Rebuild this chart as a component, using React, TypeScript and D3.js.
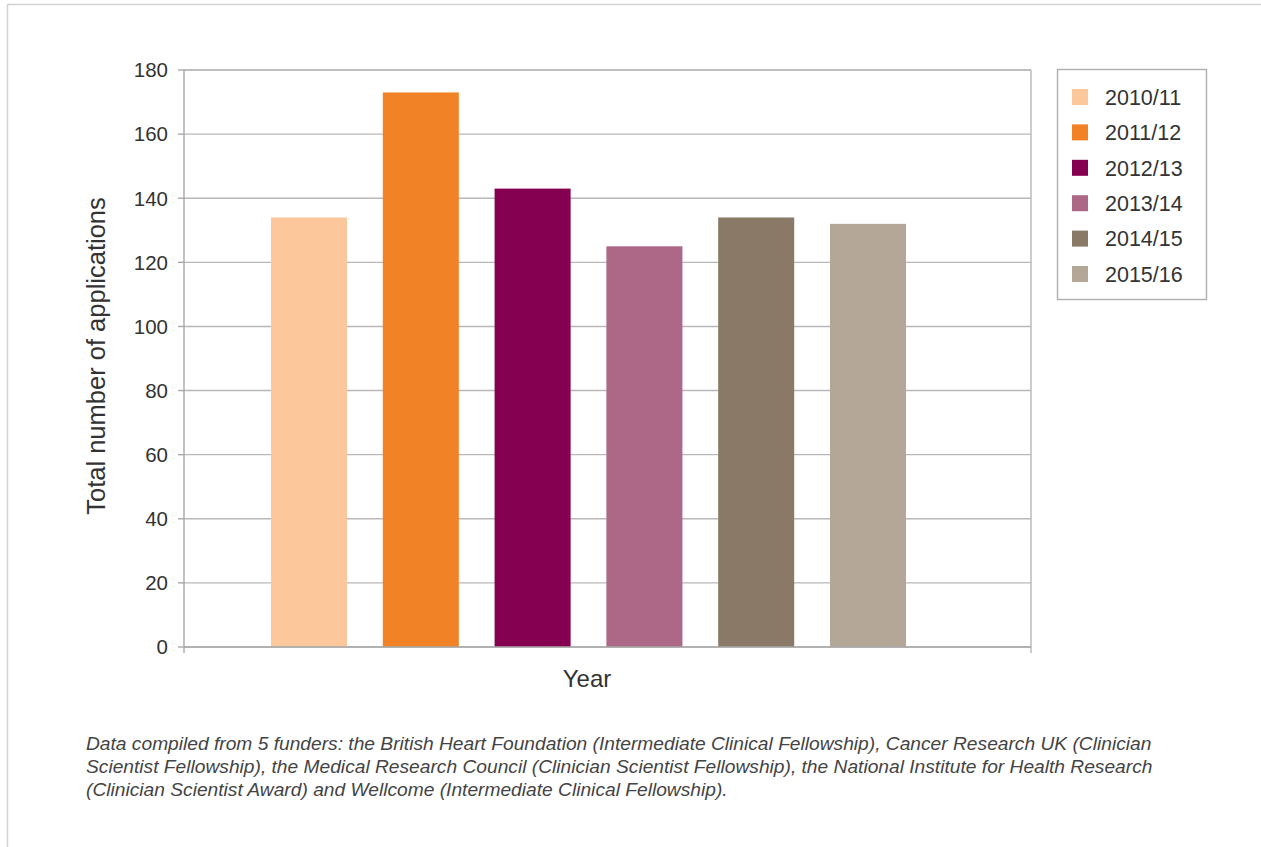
import React from "react";
import * as d3 from "d3";

const seriesNames = ["2010/11", "2011/12", "2012/13", "2013/14", "2014/15", "2015/16"];
const seriesValues = [134, 173, 143, 125, 134, 132];
const seriesColors = ["#FCC89B", "#F28226", "#850050", "#AD6787", "#8A7967", "#B5A797"];
const yTicks = [0, 20, 40, 60, 80, 100, 120, 140, 160, 180];
const yTitle = "Total number of applications";
const xTitle = "Year";
const footnoteLines = [
  "Data compiled from 5 funders: the British Heart Foundation (Intermediate Clinical Fellowship), Cancer Research UK (Clinician",
  "Scientist Fellowship), the Medical Research Council (Clinician Scientist Fellowship), the National Institute for Health Research",
  "(Clinician Scientist Award) and Wellcome (Intermediate Clinical Fellowship).",
];

const W = 1261;
const H = 847;
const plot = { left: 184, right: 1031, top: 70, bottom: 647 };
const barRange: [number, number] = [271, 906];
const FONT = "'Liberation Sans', Arial, Helvetica, sans-serif";

export default function App() {
  const y = d3.scaleLinear().domain([0, 180]).range([plot.bottom, plot.top]);
  const x = d3.scaleBand<string>().domain(seriesNames).range(barRange).paddingInner(0.32).paddingOuter(0);
  const legendY = d3.scalePoint<string>().domain(seriesNames).range([97, 274]);

  return (
    <svg
      width={W}
      height={H}
      style={{ position: "absolute", left: 0, top: 0, background: "#fff" }}
      fontFamily={FONT}
    >
      {/* outer frame */}
      <line x1={7} x2={W} y1={4.5} y2={4.5} stroke="#d2d2d2" strokeWidth={1.5} />
      <line x1={7.5} x2={7.5} y1={4} y2={H} stroke="#d2d2d2" strokeWidth={1.5} />

      {/* gridlines */}
      {yTicks.map((t) => (
        <line
          key={"g" + t}
          x1={plot.left}
          x2={plot.right}
          y1={y(t)}
          y2={y(t)}
          stroke={t === 180 ? "#a8a8a8" : "#b8b8b8"}
          strokeWidth={1.4}
        />
      ))}

      {/* bars */}
      {seriesNames.map((s, i) => (
        <rect
          key={s}
          x={x(s)}
          y={y(seriesValues[i])}
          width={x.bandwidth()}
          height={y(0) - y(seriesValues[i])}
          fill={seriesColors[i]}
        />
      ))}

      {/* axes */}
      <line x1={plot.left} x2={plot.left} y1={plot.top} y2={plot.bottom + 6} stroke="#a8a8a8" strokeWidth={1.4} />
      <line x1={plot.right} x2={plot.right} y1={plot.top} y2={plot.bottom + 6} stroke="#b8b8b8" strokeWidth={1.4} />
      <line x1={plot.left} x2={plot.right} y1={y(0)} y2={y(0)} stroke="#a8a8a8" strokeWidth={1.4} />
      {yTicks.map((t) => (
        <g key={"t" + t}>
          <line x1={plot.left - 6} x2={plot.left} y1={y(t)} y2={y(t)} stroke="#a8a8a8" strokeWidth={1.4} />
          <text
            x={plot.left - 16}
            y={y(t)}
            dy="0.36em"
            textAnchor="end"
            fontSize={20.5}
            fill="#333"
          >
            {t}
          </text>
        </g>
      ))}

      {/* axis titles */}
      <text
        transform={`translate(105, 356) rotate(-90)`}
        textAnchor="middle"
        fontSize={25.5}
        fill="#333"
      >
        {yTitle}
      </text>
      <text x={587} y={687} textAnchor="middle" fontSize={24} fill="#333">
        {xTitle}
      </text>

      {/* legend */}
      <rect x={1057.5} y={69.5} width={149} height={230} fill="#fff" stroke="#b0b0b0" strokeWidth={1.4} />
      {seriesNames.map((s, i) => (
        <g key={"l" + s}>
          <rect x={1072} y={(legendY(s) as number) - 8} width={16} height={16} fill={seriesColors[i]} />
          <text x={1105} y={legendY(s) as number} dy="0.36em" fontSize={21.5} fill="#333">
            {s}
          </text>
        </g>
      ))}

      {/* footnote */}
      {footnoteLines.map((line, i) => (
        <text key={"f" + i} x={86} y={750 + i * 23} fontSize={19.2} fontStyle="italic" fill="#444">
          {line}
        </text>
      ))}
    </svg>
  );
}
